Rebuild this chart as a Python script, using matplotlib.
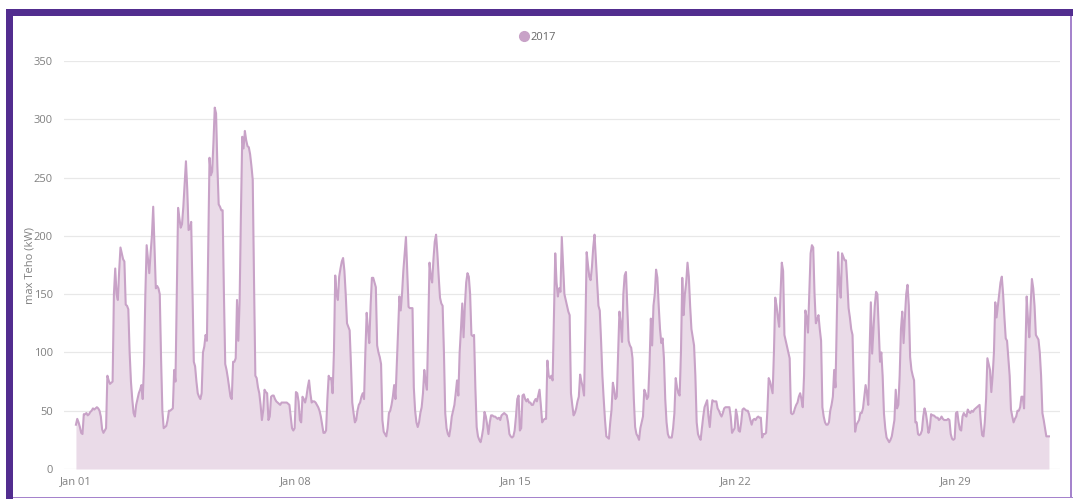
import matplotlib
matplotlib.use('Agg')
import matplotlib.pyplot as plt
import matplotlib.dates as mdates
from matplotlib.patches import Rectangle
from matplotlib.lines import Line2D
import numpy as np
import pandas as pd

plt.rcParams['font.family'] = ['Open Sans', 'DejaVu Sans']

# hourly max power (kW), one row of 24 values per day, January 2017
week1 = [
    [38, 43, 40, 36, 31, 30, 47, 47, 48, 46, 47, 49, 50, 52, 51, 52, 53, 52, 50, 45, 34, 31, 33, 35],
    [80, 76, 73, 74, 75, 150, 172, 150, 145, 170, 190, 185, 180, 178, 141, 140, 137, 100, 75, 60, 48, 45, 55, 60],
    [65, 68, 72, 60, 90, 150, 192, 180, 168, 185, 200, 225, 190, 155, 157, 155, 150, 95, 50, 35, 36, 37, 42, 50],
    [50, 51, 52, 85, 75, 150, 224, 215, 207, 210, 225, 245, 264, 240, 205, 206, 212, 150, 92, 88, 75, 65, 62, 60],
    [65, 100, 105, 115, 110, 190, 267, 252, 255, 280, 310, 305, 260, 227, 225, 222, 222, 150, 90, 85, 78, 70, 62, 60],
    [92, 92, 95, 145, 110, 145, 220, 285, 275, 290, 282, 277, 276, 270, 260, 248, 160, 80, 78, 70, 65, 55, 42, 50],
    [68, 66, 65, 42, 45, 62, 63, 63, 60, 58, 57, 56, 55, 57, 57, 57, 57, 57, 56, 55, 45, 35, 33, 35],
]
week2 = [
    [66, 65, 58, 42, 40, 62, 60, 57, 62, 70, 76, 65, 57, 58, 58, 57, 55, 53, 50, 45, 38, 31, 31, 33],
    [60, 80, 77, 78, 65, 100, 166, 150, 145, 165, 172, 178, 181, 170, 150, 125, 122, 119, 90, 57, 48, 40, 42, 50],
    [55, 57, 62, 65, 60, 100, 134, 120, 108, 140, 164, 164, 160, 156, 106, 100, 96, 90, 42, 32, 30, 28, 35, 48],
    [50, 55, 62, 72, 60, 90, 120, 148, 136, 150, 170, 185, 199, 170, 139, 138, 138, 138, 70, 50, 40, 36, 40, 48],
    [53, 65, 85, 75, 68, 120, 177, 165, 160, 180, 195, 201, 185, 165, 147, 142, 140, 100, 48, 35, 30, 28, 35, 45],
    [50, 55, 65, 76, 63, 100, 120, 142, 113, 140, 160, 168, 165, 150, 115, 114, 115, 70, 36, 28, 25, 23, 28, 35],
    [49, 45, 38, 30, 40, 46, 46, 45, 45, 44, 43, 44, 42, 46, 47, 48, 47, 46, 40, 30, 28, 27, 28, 33],
]
week3 = [
    [45, 60, 63, 33, 35, 63, 64, 60, 58, 60, 57, 57, 55, 55, 58, 60, 58, 63, 68, 55, 40, 42, 43, 43],
    [93, 80, 78, 80, 76, 130, 185, 160, 148, 155, 152, 199, 175, 150, 145, 140, 135, 132, 65, 55, 46, 48, 52, 58],
    [62, 81, 75, 70, 63, 120, 186, 175, 165, 162, 173, 190, 201, 180, 160, 140, 136, 110, 80, 60, 42, 28, 27, 26],
    [40, 51, 74, 68, 60, 62, 100, 135, 125, 109, 150, 166, 169, 140, 110, 106, 104, 95, 60, 36, 30, 28, 25, 35],
    [40, 45, 68, 65, 60, 62, 90, 129, 106, 140, 150, 171, 164, 140, 120, 108, 112, 95, 60, 40, 30, 27, 27, 27],
    [35, 48, 78, 70, 65, 63, 100, 164, 132, 150, 160, 177, 165, 140, 120, 113, 106, 80, 40, 30, 27, 25, 35, 45],
    [53, 56, 59, 45, 36, 50, 59, 58, 58, 58, 52, 50, 47, 45, 48, 52, 53, 53, 53, 53, 45, 31, 33, 35],
]
week4 = [
    [51, 45, 33, 32, 40, 51, 52, 51, 50, 50, 47, 42, 38, 42, 43, 42, 44, 45, 44, 44, 27, 30, 30, 31],
    [50, 78, 75, 70, 65, 100, 147, 140, 130, 122, 150, 177, 170, 115, 110, 105, 100, 95, 48, 47, 48, 52, 55, 57],
    [62, 65, 60, 53, 80, 136, 130, 117, 150, 185, 192, 190, 150, 125, 128, 132, 120, 110, 53, 45, 40, 38, 38, 40],
    [50, 55, 62, 85, 70, 130, 186, 160, 147, 185, 182, 179, 179, 160, 138, 130, 120, 115, 70, 32, 38, 40, 42, 48],
    [48, 52, 62, 72, 65, 55, 100, 143, 99, 120, 140, 152, 150, 120, 92, 100, 80, 48, 35, 27, 25, 23, 25, 28],
    [35, 42, 68, 52, 55, 80, 120, 135, 108, 130, 150, 158, 140, 96, 85, 80, 76, 40, 40, 30, 29, 30, 33, 45],
    [52, 48, 40, 31, 35, 47, 46, 46, 45, 44, 44, 42, 43, 45, 43, 42, 42, 42, 43, 42, 30, 26, 25, 26],
]
week5 = [
    [48, 49, 40, 34, 33, 45, 48, 46, 45, 51, 49, 48, 50, 49, 51, 52, 53, 54, 55, 40, 29, 28, 40, 60],
    [95, 90, 85, 66, 80, 100, 143, 130, 140, 150, 160, 165, 150, 130, 112, 110, 95, 80, 51, 45, 40, 43, 45, 50],
    [50, 53, 62, 62, 52, 100, 148, 128, 113, 140, 163, 155, 140, 115, 113, 111, 100, 80, 48, 42, 35, 28, 28, 28],
]

series_name = '2017'
y_label = 'max Teho (kW)'
y_ticks = [0, 50, 100, 150, 200, 250, 300, 350]
x_ticks = ['2017-01-01', '2017-01-08', '2017-01-15', '2017-01-22', '2017-01-29']

values = np.concatenate([np.ravel(w) for w in (week1, week2, week3, week4, week5)])
times = pd.date_range('2017-01-01 00:00', periods=len(values), freq='h')

line_col = '#c8a2c7'
fill_col = '#eadbe8'
purple = '#522d8f'
lav = '#a583cc'

W, H = 1073, 499
fig = plt.figure(figsize=(W / 100, H / 100), dpi=100)
ax = fig.add_axes([64 / W, (H - 469) / H, (1060 - 64) / W, (469 - 61) / H])

ax.fill_between(times, 0, values, color=fill_col, lw=0)
ax.plot(times, values, color=line_col, lw=1.5, solid_joinstyle='round')

t0 = mdates.date2num(pd.Timestamp('2017-01-01'))
ax.set_xlim(t0 - 0.38, t0 + 31.31)
ax.set_ylim(0, 350)

ax.set_yticks(y_ticks)
ax.set_xticks([mdates.date2num(pd.Timestamp(t)) for t in x_ticks])
ax.xaxis.set_major_formatter(mdates.DateFormatter('%b %d'))
ax.grid(axis='y', color='#e8e8e8', lw=0.9)
ax.set_axisbelow(True)
for s in ax.spines.values():
    s.set_visible(False)
ax.tick_params(length=0, labelsize=8, colors='#808080')
ax.tick_params(axis='y', pad=8)
ax.tick_params(axis='x', pad=5)
ax.set_ylabel(y_label, fontsize=8, color='#808080')
ax.yaxis.set_label_coords(-0.029, 0.5)

h = [Line2D([], [], marker='o', ls='', color=line_col, markersize=7)]
fig.legend(h, [series_name], loc='center', bbox_to_anchor=(537 / W, (H - 37) / H),
           frameon=False, handletextpad=0.05, handlelength=1.0, fontsize=8,
           labelcolor='#666666')

# dashboard frame
fig.add_artist(Rectangle((6 / W, 0), 7 / W, (H - 9) / H, transform=fig.transFigure, color=purple, lw=0))
fig.add_artist(Rectangle((6 / W, (H - 16) / H), (W - 6) / W, 7 / H, transform=fig.transFigure, color=purple, lw=0))
fig.add_artist(Rectangle((1070 / W, 1 / H), 1.5 / W, (H - 17) / H, transform=fig.transFigure, color=lav, lw=0))
fig.add_artist(Rectangle((13 / W, 1 / H), (W - 13) / W, 1.5 / H, transform=fig.transFigure, color=lav, lw=0))

fig.savefig('out.png', dpi=100)
